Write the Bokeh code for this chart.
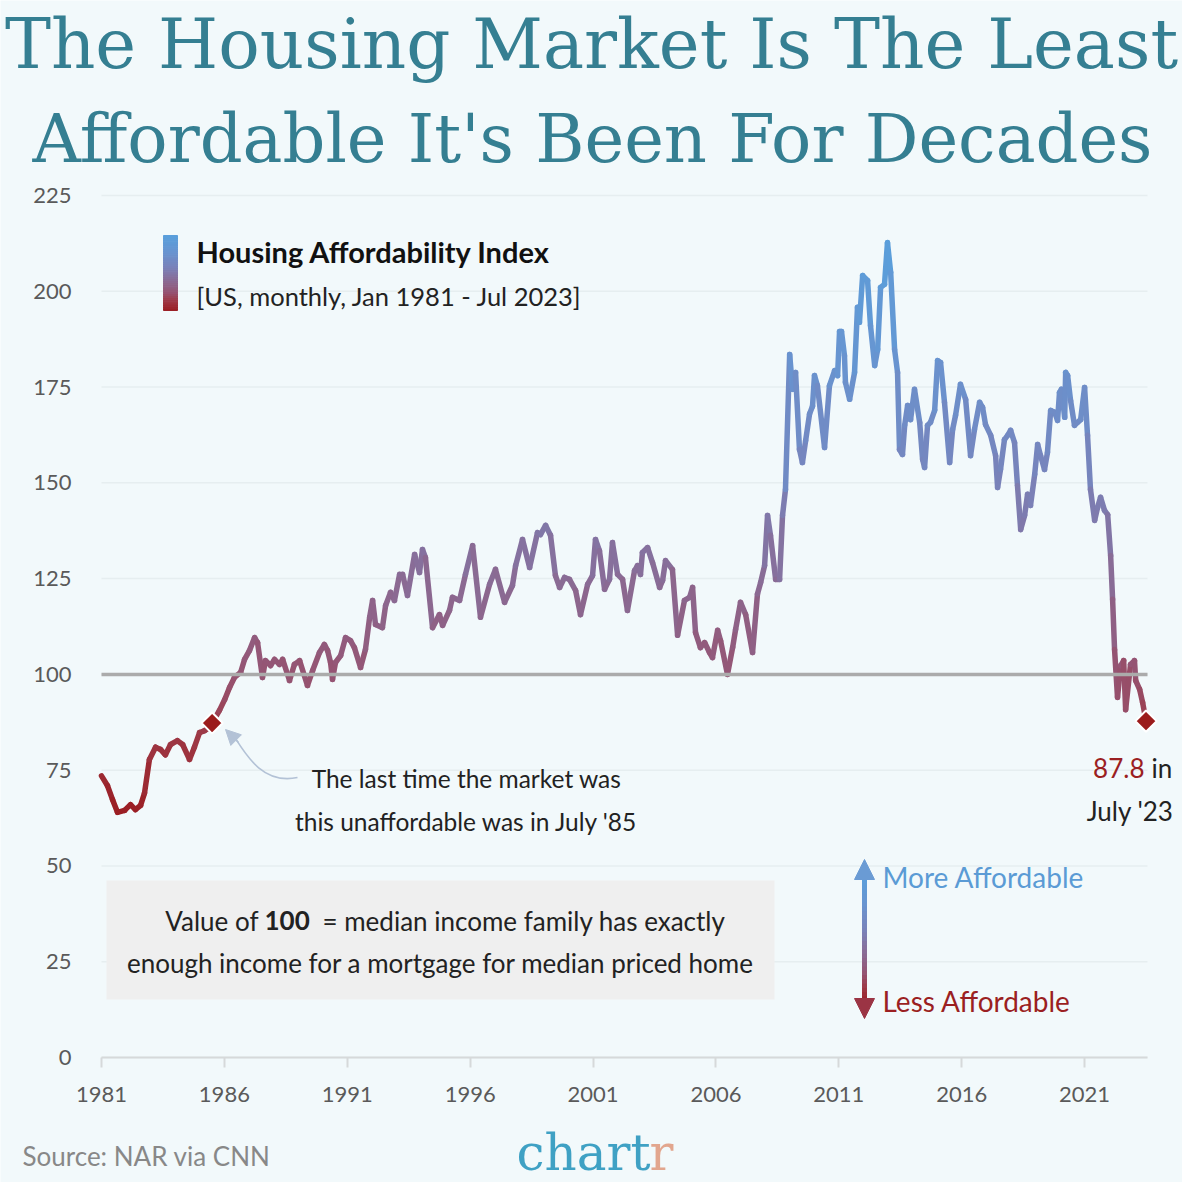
import numpy as np
from bokeh.plotting import figure
from bokeh.models import Range1d, FixedTicker, Label, BoxAnnotation, Arrow, NormalHead
from bokeh.embed import file_html
from bokeh.resources import INLINE

# ---------------- data ----------------
dates = [1981.00, 1981.24, 1981.45, 1981.65, 1981.94, 1982.18, 1982.38, 1982.59, 1982.75, 1982.95,
         1983.20, 1983.40, 1983.60, 1983.81, 1984.09, 1984.30, 1984.58, 1984.78, 1984.99, 1985.19,
         1985.39, 1985.50, 1985.80, 1986.01, 1986.21, 1986.41, 1986.66, 1986.82, 1987.02, 1987.23,
         1987.35, 1987.55, 1987.67, 1987.88, 1988.04, 1988.24, 1988.37, 1988.65, 1988.85, 1989.06,
         1989.38, 1989.59, 1989.87, 1990.07, 1990.20, 1990.32, 1990.40, 1990.52, 1990.73, 1990.93,
         1991.13, 1991.29, 1991.54, 1991.74, 1991.91, 1992.03, 1992.15, 1992.43, 1992.56, 1992.76,
         1992.92, 1993.13, 1993.25, 1993.45, 1993.74, 1993.94, 1994.06, 1994.18, 1994.47, 1994.75,
         1994.88, 1995.16, 1995.28, 1995.57, 1995.81, 1996.10, 1996.42, 1996.79, 1997.03, 1997.40,
         1997.72, 1997.85, 1998.13, 1998.42, 1998.74, 1998.86, 1999.07, 1999.27, 1999.47, 1999.64,
         1999.84, 2000.04, 2000.29, 2000.49, 2000.78, 2000.98, 2001.10, 2001.26, 2001.47, 2001.67,
         2001.79, 2002.00, 2002.20, 2002.40, 2002.69, 2002.81, 2002.93, 2003.01, 2003.22, 2003.42,
         2003.71, 2003.83, 2003.95, 2004.23, 2004.44, 2004.72, 2004.93, 2005.05, 2005.17, 2005.37,
         2005.54, 2005.74, 2005.86, 2006.07, 2006.19, 2006.47, 2006.68, 2006.80, 2007.00, 2007.21,
         2007.49, 2007.69, 2007.82, 2007.98, 2008.10, 2008.22, 2008.43, 2008.59, 2008.71, 2008.83,
         2009.00, 2009.12, 2009.24, 2009.40, 2009.52, 2009.65, 2009.81, 2009.93, 2010.01, 2010.13,
         2010.42, 2010.62, 2010.83, 2010.95, 2011.03, 2011.11, 2011.23, 2011.27, 2011.44, 2011.64,
         2011.76, 2011.84, 2011.97, 2012.17, 2012.29, 2012.46, 2012.58, 2012.70, 2012.86, 2012.98,
         2013.11, 2013.27, 2013.39, 2013.47, 2013.59, 2013.68, 2013.80, 2013.92, 2014.08, 2014.29,
         2014.41, 2014.49, 2014.61, 2014.73, 2014.90, 2015.02, 2015.14, 2015.30, 2015.51, 2015.63,
         2015.75, 2015.95, 2016.16, 2016.36, 2016.52, 2016.73, 2016.85, 2016.97, 2017.18, 2017.38,
         2017.46, 2017.58, 2017.74, 2017.87, 2017.99, 2018.15, 2018.27, 2018.40, 2018.56, 2018.68,
         2018.80, 2018.97, 2019.09, 2019.21, 2019.37, 2019.49, 2019.62, 2019.78, 2019.90, 2019.98,
         2020.06, 2020.19, 2020.23, 2020.31, 2020.43, 2020.59, 2020.72, 2020.84, 2021.00, 2021.12,
         2021.24, 2021.41, 2021.53, 2021.65, 2021.81, 2021.94, 2022.06, 2022.14, 2022.22, 2022.34,
         2022.47, 2022.59, 2022.67, 2022.87, 2023.03, 2023.08, 2023.24, 2023.36, 2023.50]

hai = [73.5, 71.0, 67.3, 64.0, 64.5, 66.0, 64.7, 65.8, 69.0, 77.8,
       81.0, 80.4, 79.0, 81.7, 82.7, 81.7, 77.8, 81.0, 84.8, 85.3,
       86.1, 87.3, 90.6, 93.4, 96.6, 99.2, 100.5, 103.9, 106.2, 109.6,
       108.3, 99.2, 103.6, 102.3, 103.9, 102.6, 103.9, 98.4, 102.6, 103.6,
       97.1, 101.0, 105.7, 107.8, 106.2, 103.1, 98.7, 103.1, 104.9, 109.6,
       108.8, 107.0, 101.8, 106.5, 114.9, 119.3, 113.0, 112.2, 118.0, 121.4,
       119.3, 126.1, 126.1, 120.6, 131.3, 126.6, 132.6, 130.5, 112.2, 115.6,
       112.8, 116.7, 120.1, 119.3, 126.1, 133.6, 114.9, 123.5, 127.4, 118.8,
       123.2, 128.4, 135.2, 127.9, 137.0, 136.5, 138.9, 136.3, 125.8, 122.7,
       125.3, 124.8, 121.9, 115.6, 123.5, 125.8, 135.2, 132.3, 122.2, 124.8,
       134.4, 126.1, 124.8, 116.7, 127.1, 128.4, 126.1, 131.8, 133.1, 129.2,
       122.7, 124.5, 129.7, 127.4, 110.2, 119.3, 120.1, 122.7, 110.9, 107.0,
       108.3, 105.7, 104.4, 111.5, 108.8, 100.0, 107.0, 111.7, 118.8, 115.6,
       105.7, 121.0, 124.0, 128.4, 141.5, 136.3, 124.8, 124.8, 141.5, 148.3,
       183.5, 174.4, 178.8, 158.7, 155.3, 161.0, 168.0, 170.0, 178.0, 175.4,
       159.2, 175.4, 179.3, 178.0, 189.5, 189.5, 183.2, 176.2, 171.8, 178.8,
       195.8, 191.9, 204.1, 202.8, 191.0, 180.6, 184.8, 201.0, 201.8, 212.7,
       204.9, 184.8, 178.8, 158.7, 157.4, 165.0, 170.2, 166.5, 174.4, 165.8,
       156.1, 154.0, 165.0, 165.8, 168.9, 181.9, 181.4, 171.0, 155.3, 163.9,
       167.6, 175.7, 171.8, 157.1, 163.9, 171.0, 169.7, 165.2, 162.4, 157.1,
       148.8, 153.5, 161.3, 162.4, 163.7, 160.5, 149.3, 137.8, 141.5, 147.0,
       144.1, 152.2, 160.0, 157.1, 153.5, 157.9, 168.9, 168.4, 166.3, 173.6,
       174.4, 167.1, 178.8, 178.0, 171.5, 165.0, 165.8, 166.5, 174.9, 162.4,
       148.3, 140.2, 143.6, 146.2, 142.8, 141.7, 131.0, 119.6, 106.5, 94.0,
       102.3, 103.6, 90.8, 102.6, 103.6, 98.4, 96.1, 92.7, 87.8]

highlight_dates = [1985.50, 2023.50]
highlight_values = [87.3, 87.8]

x_ticks = [1981, 1986, 1991, 1996, 2001, 2006, 2011, 2016, 2021]
y_ticks = [0, 25, 50, 75, 100, 125, 150, 175, 200, 225]
reference_level = 100

# ---------------- styling / geometry ----------------
BG = "#f2f9fb"
FONT = "Lato"
SERIF = "DejaVu Serif"
RED = "#9b1f22"
BLUE = "#5b9bd5"
W = 1182

FL, FB, FT = 109, 1065, 203          # plot area in reference pixels
PX_PER_YEAR = 24.577
X0, X_END = 1981.0, 2023.56
Y0, Y1 = 0, 225


def X(rx):
    return X0 + (rx - FL) / PX_PER_YEAR


def Y(ry):
    return (FB - ry) * (Y1 - Y0) / (FB - FT)


stops_v = [64, 85, 100, 125, 150, 180, 213]
stops_c = np.array([(155, 30, 35), (158, 58, 72), (150, 84, 114), (138, 108, 150),
                    (122, 130, 185), (105, 148, 208), (90, 160, 220)], dtype=float)


def grad(v):
    r = np.interp(v, stops_v, stops_c[:, 0])
    g = np.interp(v, stops_v, stops_c[:, 1])
    b = np.interp(v, stops_v, stops_c[:, 2])
    return "#%02x%02x%02x" % (int(r), int(g), int(b))


# whole canvas is the frame; axes are pinned inside it
p = figure(width=W, height=W,
           x_range=Range1d(X(8), X(8 + W)), y_range=Range1d(Y(8 + W), Y(8)),
           output_backend="svg", toolbar_location=None, min_border=0,
           background_fill_color=BG, border_fill_color=BG)
p.outline_line_color = None

xa = p.xaxis[0]
ya = p.yaxis[0]
xa.fixed_location = 0
ya.fixed_location = X0
xa.ticker = FixedTicker(ticks=x_ticks)
ya.ticker = FixedTicker(ticks=y_ticks)
xa.bounds = (X0, X_END)
ya.bounds = (Y0, Y1)
xa.axis_line_color = "#d6d9da"
xa.axis_line_width = 2
xa.major_tick_line_color = "#d6d9da"
xa.major_tick_line_width = 2
xa.major_tick_out = 10
xa.major_tick_in = 0
xa.minor_tick_line_color = None
xa.major_label_standoff = 19
ya.axis_line_color = None
ya.major_tick_line_color = None
ya.minor_tick_line_color = None
ya.major_tick_out = 0
ya.major_tick_in = 0
ya.major_label_standoff = 30
for ax in (xa, ya):
    ax.major_label_text_font = FONT
    ax.major_label_text_font_size = "22px"
    ax.major_label_text_color = "#5a5a5a"
p.xgrid.grid_line_color = None
p.ygrid.grid_line_color = None

# horizontal grid lines that stop at the end of the axis
p.segment(x0=[X0] * len(y_ticks), x1=[X_END] * len(y_ticks), y0=y_ticks, y1=y_ticks,
          line_color="#e6eef0", line_width=1.5, level="underlay")

# note box
p.add_layout(BoxAnnotation(left=X(114), right=X(782), top=Y(888), bottom=Y(1007),
                           fill_color="#efefef", fill_alpha=1, line_color=None, level="underlay"))

# gradient data line
d = np.array(dates)
v = np.array(hai)
mid = (v[:-1] + v[1:]) / 2
p.segment(x0=d[:-1], y0=v[:-1], x1=d[1:], y1=v[1:],
          line_color=[grad(m) for m in mid], line_width=5.5, line_cap="round")

# reference line at 100
p.segment(x0=[X0], x1=[X_END], y0=[reference_level], y1=[reference_level],
          line_color="#ababab", line_width=3.5)

# highlight diamonds
p.scatter(highlight_dates, highlight_values, marker="square", angle=np.pi / 4,
          size=15, fill_color="#9b1c1c", line_color="white", line_width=2)

# legend gradient bar
n = 40
ys = np.linspace(Y(318), Y(243), n + 1)
bar_cols = [grad(64 + (i + 0.5) / n * (213 - 64)) for i in range(n)]
p.quad(left=X(171), right=X(185), bottom=ys[:-1], top=ys[1:],
       fill_color=bar_cols, line_color=bar_cols, line_width=1)

BASELINE_FIX = 0.38   # Bokeh draws "alphabetic" labels lower than the given y


def lab(rx, ry, text, size, color="#222222", font=FONT, align="left", style="normal"):
    p.add_layout(Label(x=X(rx), y=Y(ry - BASELINE_FIX * size), text=text, text_font=font,
                       text_font_size=f"{size}px", text_color=color,
                       text_align=align, text_baseline="alphabetic",
                       text_font_style=style))


# title
lab(599, 78, "The Housing Market Is The Least", 69, "#357f92", SERIF, "center")
lab(600, 172, "Affordable It's Been For Decades", 67, "#357f92", SERIF, "center")

# legend text
lab(204, 270, "Housing Affordability Index", 29, "#111111", style="bold")
lab(204, 313, "[US, monthly, Jan 1981 - Jul 2023]", 25.5, "#222222")

# July '85 annotation
lab(474, 795, "The last time the market was", 24.5, align="center")
lab(474, 838, "this unaffordable was in July '85", 24.5, align="center")
p.bezier(x0=[X(305)], y0=[Y(785)], x1=[X(243)], y1=[Y(746)],
         cx0=[X(272)], cy0=[Y(792)], cx1=[X(255)], cy1=[Y(765)],
         line_color="#b3c2d6", line_width=1.6)
p.add_layout(Arrow(end=NormalHead(size=15, fill_color="#b3c2d6", line_color="#b3c2d6"),
                   x_start=X(246), y_start=Y(750), x_end=X(233), y_end=Y(737),
                   line_color="#b3c2d6", line_width=1.6))

# note box text
lab(266, 938, "Value of", 26, align="right")
lab(272, 938, "100", 26, style="bold")
lab(330, 938, "= median income family has exactly", 26)
lab(448, 980, "enough income for a mortgage for median priced home", 26, align="center")

# end-value label
lab(1152, 785, "87.8", 26, RED, align="right")
lab(1159, 785, "in", 26, "#222222")
lab(1181, 828, "July '23", 26, "#222222", align="right")

# affordability double arrow
m = 30
ay = np.linspace(Y(1010), Y(882), m + 1)
p.segment(x0=[X(872)] * m, y0=ay[:-1], x1=[X(872)] * m, y1=ay[1:],
          line_color=[grad(64 + (i + 0.5) / m * (213 - 64)) for i in range(m)],
          line_width=5, line_cap="square")
p.add_layout(Arrow(start=NormalHead(size=20, fill_color="#9b3444", line_color="#9b3444"),
                   end=NormalHead(size=20, fill_color="#6a9bd4", line_color="#6a9bd4"),
                   x_start=X(872), y_start=Y(1026), x_end=X(872), y_end=Y(867),
                   line_alpha=0))
lab(890, 895, "More Affordable", 28, BLUE)
lab(890, 1019, "Less Affordable", 28, RED)

# footer
lab(30, 1173, "Source: NAR via CNN", 26, "#888888")
lab(524, 1179, "chart", 50, "#3fa1c4", SERIF)
lab(657, 1179, "r", 50, "#e2a68e", SERIF)

open("out.html", "w").write(file_html(p, INLINE))
